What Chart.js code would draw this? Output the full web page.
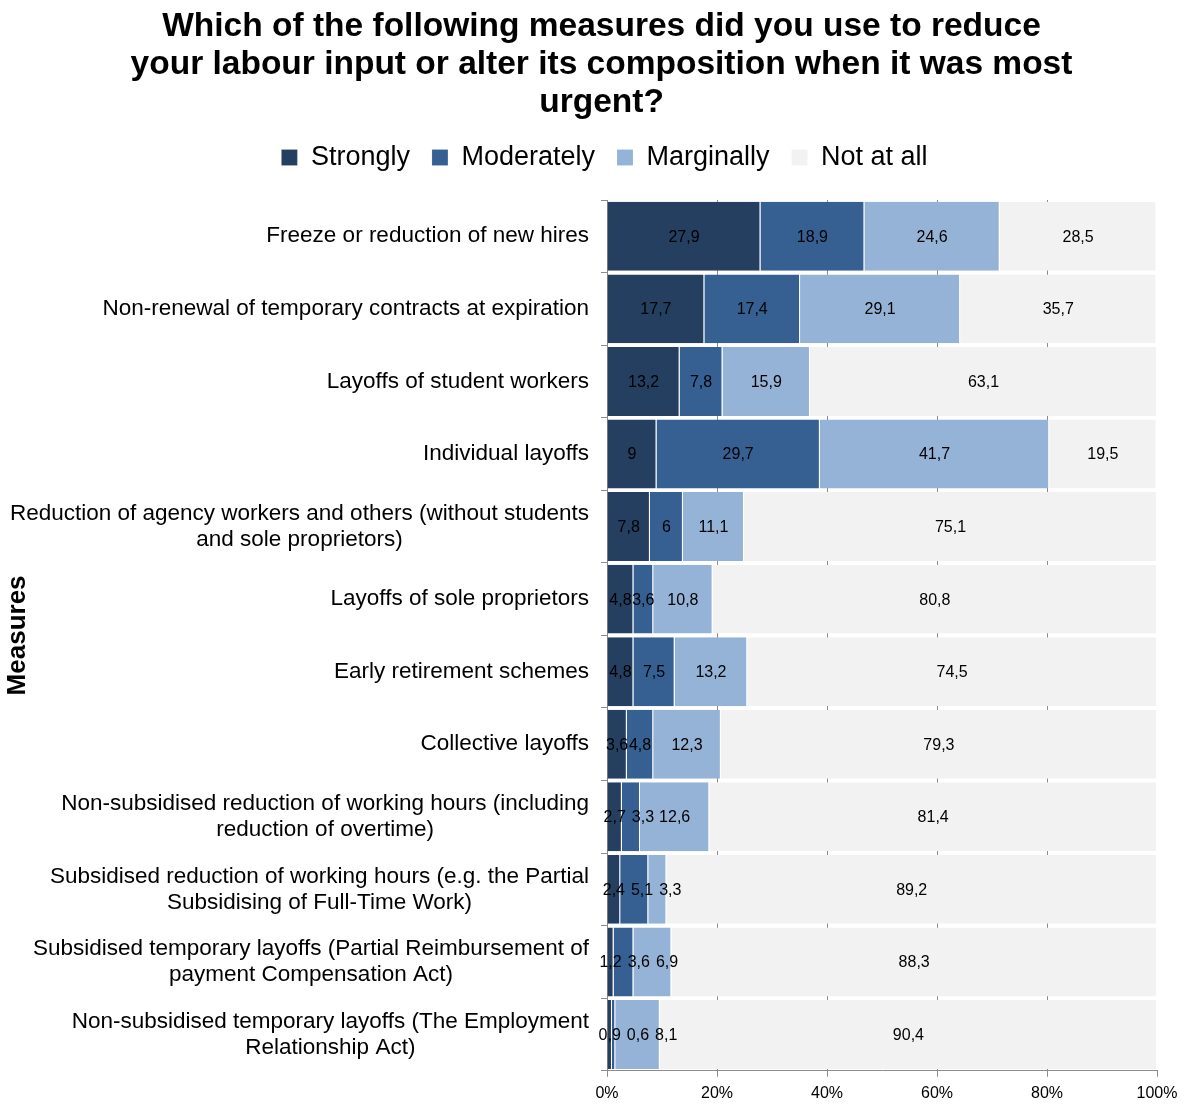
<!DOCTYPE html>
<html>
<head>
<meta charset="utf-8">
<script src="https://cdn.jsdelivr.net/npm/chart.js@4/dist/chart.umd.min.js"></script>
<style>
  body { margin: 0; background: #fff; }
  #wrap { width: 1187px; height: 1106px; }
</style>
</head>
<body>
<div id="wrap"><canvas id="myChart" width="1187" height="1106"></canvas></div>
<script>
const measures = [
  'Freeze or reduction of new hires',
  'Non-renewal of temporary contracts at expiration',
  'Layoffs of student workers',
  'Individual layoffs',
  ['Reduction of agency workers and others (without students', 'and sole proprietors)'],
  'Layoffs of sole proprietors',
  'Early retirement schemes',
  'Collective layoffs',
  ['Non-subsidised reduction of working hours (including', 'reduction of overtime)'],
  ['Subsidised reduction of working hours (e.g. the Partial', 'Subsidising of Full-Time Work)'],
  ['Subsidised temporary layoffs (Partial Reimbursement of', 'payment Compensation Act)'],
  ['Non-subsidised temporary layoffs (The Employment', 'Relationship Act)']
];
const strongly   = [27.9, 17.7, 13.2, 9, 7.8, 4.8, 4.8, 3.6, 2.7, 2.4, 1.2, 0.9];
const moderately = [18.9, 17.4, 7.8, 29.7, 6, 3.6, 7.5, 4.8, 3.3, 5.1, 3.6, 0.6];
const marginally = [24.6, 29.1, 15.9, 41.7, 11.1, 10.8, 13.2, 12.3, 12.6, 3.3, 6.9, 8.1];
const notAtAll   = [28.5, 35.7, 63.1, 19.5, 75.1, 80.8, 74.5, 79.3, 81.4, 89.2, 88.3, 90.4];
const xTicks = [0, 20, 40, 60, 80, 100];

const FONT = "'Liberation Sans', Arial, sans-serif";
Chart.defaults.font.family = FONT;
Chart.defaults.color = '#000';

// numbers inside the bars, comma decimals; pushed right when they would collide
const barLabels = {
  id: 'barLabels',
  afterDatasetsDraw(chart) {
    const c = chart.ctx;
    c.save();
    c.font = '16px ' + FONT;
    c.fillStyle = '#000';
    c.textAlign = 'center';
    c.textBaseline = 'middle';
    const lastRight = [];
    chart.data.datasets.forEach((ds, i) => {
      chart.getDatasetMeta(i).data.forEach((bar, j) => {
        const txt = String(ds.data[j]).replace('.', ',');
        const w = c.measureText(txt).width;
        let x = (bar.x + bar.base) / 2;
        if (lastRight[j] !== undefined && x - w / 2 < lastRight[j]) x = lastRight[j] + 6 + w / 2;
        lastRight[j] = x + w / 2;
        c.fillText(txt, x, bar.y + 1);
      });
    });
    c.restore();
  }
};

// category labels: block right aligned, lines centred inside the block
const catLabels = {
  id: 'catLabels',
  afterDraw(chart) {
    const c = chart.ctx;
    const scale = chart.scales.y;
    c.save();
    c.font = '22.5px ' + FONT;
    c.fillStyle = '#000';
    c.textAlign = 'center';
    c.textBaseline = 'middle';
    const lh = 26;
    measures.forEach((lab, i) => {
      const lines = Array.isArray(lab) ? lab : [lab];
      const w = Math.max(...lines.map(l => c.measureText(l).width));
      const cx = scale.right - 18 - w / 2;
      const y0 = scale.getPixelForTick(i) - (lines.length - 1) * lh / 2;
      lines.forEach((l, k) => c.fillText(l, cx, y0 + k * lh));
    });
    c.restore();
  }
};

// title and legend sit a bit right of centre, legend keeps a gap under it
const header = {
  id: 'header',
  afterInit(chart) {
    [[chart.titleBlock, 23], [chart.legend, 26]].forEach(([box, dx]) => {
      const draw = box.draw;
      box.draw = function (...a) {
        this.ctx.save();
        this.ctx.translate(dx, 0);
        draw.apply(this, a);
        this.ctx.restore();
      };
    });
    const fit = chart.legend.fit;
    chart.legend.fit = function () { fit.call(this); this.height += 19; };
  }
};

const ctx = document.getElementById('myChart');

new Chart(ctx, {
  type: 'bar',
  data: {
    labels: measures,
    datasets: [
      { label: 'Strongly', data: strongly, backgroundColor: '#253f60' },
      { label: 'Moderately', data: moderately, backgroundColor: '#366092' },
      { label: 'Marginally', data: marginally, backgroundColor: '#95b3d7' },
      { label: 'Not at all', data: notAtAll, backgroundColor: '#f2f2f2' }
    ].map(d => Object.assign(d, {
      borderColor: 'rgba(255,255,255,0.6)',
      borderWidth: { top: 0, bottom: 0, left: 0, right: 1 },
      borderSkipped: false,
      barPercentage: 0.95,
      categoryPercentage: 1
    }))
  },
  options: {
    indexAxis: 'y',
    responsive: false,
    animation: false,
    layout: { padding: { left: 0, right: 30, top: 0, bottom: -4 } },
    scales: {
      x: {
        stacked: true,
        min: 0,
        max: 100,
        afterBuildTicks: (s) => { s.ticks = xTicks.map(v => ({ value: v })); },
        ticks: { callback: (v) => v + '%', font: { size: 16 }, color: '#000', padding: 7 },
        grid: {
          color: (c) => (c.tick && c.tick.value === 100 ? 'rgba(0,0,0,0)' : '#8c8c8c'),
          tickColor: '#8c8c8c',
          tickLength: 6
        },
        border: { color: '#8c8c8c' }
      },
      y: {
        stacked: true,
        afterFit: (s) => { s.width = 607; },
        ticks: { callback: () => '' },
        grid: { drawOnChartArea: false, color: '#8c8c8c', tickLength: 6 },
        border: { color: '#8c8c8c' },
        title: {
          display: true,
          text: 'Measures',
          font: { size: 26, weight: 'bold' },
          color: '#000',
          padding: { top: 2, bottom: 2 }
        }
      }
    },
    plugins: {
      title: {
        display: true,
        text: ['Which of the following measures did you use to reduce',
               'your labour input or alter its composition when it was most',
               'urgent?'],
        font: { size: 33.5, weight: 'bold', lineHeight: 38 / 33.5 },
        color: '#000',
        padding: { top: 8, bottom: 0 }
      },
      legend: {
        position: 'top',
        labels: {
          boxWidth: 16,
          boxHeight: 16,
          padding: 22,
          color: '#000',
          font: { size: 27 }
        }
      },
      tooltip: { enabled: false }
    }
  },
  plugins: [barLabels, catLabels, header]
});
</script>
</body>
</html>
